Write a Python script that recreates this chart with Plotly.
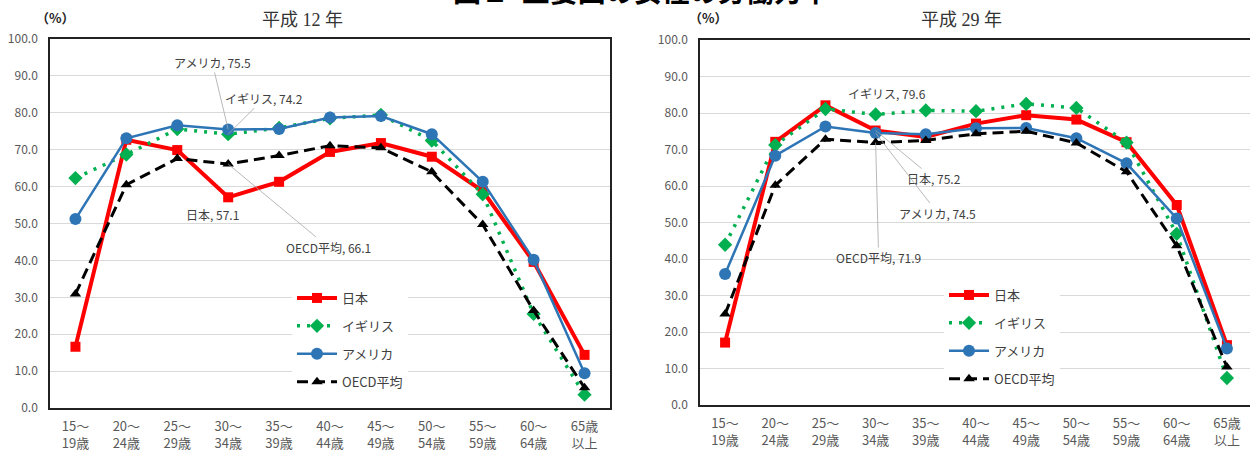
import plotly.graph_objects as go

categories = ["15～<br>19歳", "20～<br>24歳", "25～<br>29歳", "30～<br>34歳", "35～<br>39歳",
              "40～<br>44歳", "45～<br>49歳", "50～<br>54歳", "55～<br>59歳", "60～<br>64歳", "65歳<br>以上"]
series_names = ["日本", "イギリス", "アメリカ", "OECD平均"]

# 平成12年
h12_japan = [16.6, 72.7, 69.9, 57.1, 61.3, 69.4, 71.8, 68.1, 58.8, 39.6, 14.4]
h12_uk = [62.3, 68.7, 75.6, 74.2, 75.9, 78.5, 79.4, 72.5, 57.9, 25.5, 3.6]
h12_us = [51.2, 73.1, 76.6, 75.5, 75.6, 78.7, 79.1, 74.2, 61.3, 40.2, 9.4]
h12_oecd = [30.9, 60.5, 67.6, 66.1, 68.4, 71.1, 70.5, 64.0, 49.7, 26.4, 5.5]

# 平成29年
h29_japan = [17.1, 72.1, 82.1, 75.2, 73.4, 77.1, 79.4, 78.2, 72.0, 54.8, 16.4]
h29_uk = [43.9, 71.2, 81.1, 79.6, 80.7, 80.5, 82.5, 81.4, 71.9, 46.9, 7.4]
h29_us = [35.9, 68.3, 76.3, 74.5, 74.2, 75.8, 75.9, 73.1, 66.2, 51.1, 15.5]
h29_oecd = [24.9, 60.2, 72.8, 71.9, 72.5, 74.3, 75.0, 71.8, 63.9, 43.6, 10.4]

styles = [
    dict(line=dict(color="#FF0000", width=4), marker=dict(symbol="square", size=10, color="#FF0000")),
    dict(line=dict(color="#00B050", width=3.5, dash="3px,7px"), marker=dict(symbol="diamond", size=11, color="#00B050")),
    dict(line=dict(color="#2E75B6", width=2.5), marker=dict(symbol="circle", size=12, color="#2E75B6")),
    dict(line=dict(color="#000000", width=3, dash="11px,6px"), marker=dict(symbol="triangle-up", size=10, color="#000000")),
]

fig = go.Figure()
for i, (name, vals) in enumerate(zip(series_names, [h12_japan, h12_uk, h12_us, h12_oecd])):
    fig.add_trace(go.Scatter(x=categories, y=vals, name=name, mode="lines+markers",
                             xaxis="x", yaxis="y", legend="legend", legendgroup="a" + str(i),
                             **styles[i]))
for i, (name, vals) in enumerate(zip(series_names, [h29_japan, h29_uk, h29_us, h29_oecd])):
    fig.add_trace(go.Scatter(x=categories, y=vals, name=name, mode="lines+markers",
                             xaxis="x2", yaxis="y2", legend="legend2", legendgroup="b" + str(i),
                             **styles[i]))

H = 452
W = 1250
tickfont = dict(family="Noto Sans CJK JP", size=12, color="#595959")
xtickfont = dict(family="Noto Sans CJK JP", size=13, color="#595959")
label_font = dict(family="Noto Sans CJK JP", size=12, color="#404040")

common_x = dict(type="category", categoryorder="array", categoryarray=categories,
                showgrid=False, showline=True, linecolor="#222222", linewidth=1.5,
                ticks="", tickfont=xtickfont, tickangle=0, fixedrange=True,
                automargin=False, ticklabelstandoff=6)
common_y = dict(range=[0, 100], dtick=10, tickformat=".1f", showgrid=True,
                gridcolor="#D9D9D9", gridwidth=1, showline=True, linecolor="#222222",
                linewidth=1.5, ticks="", ticklabelstandoff=8, tickfont=tickfont,
                zeroline=False, automargin=False)

legend_common = dict(bgcolor="white", font=dict(family="Noto Sans CJK JP", size=13, color="#404040"),
                     tracegroupgap=8, itemwidth=40, xanchor="left", yanchor="top")

fig.update_layout(
    width=W, height=H,
    margin=dict(l=0, r=0, t=0, b=0, autoexpand=False),
    paper_bgcolor="white", plot_bgcolor="white",
    xaxis=dict(domain=[50 / W, 610 / W], range=[-0.5, 10.5], anchor="y", mirror=True, **common_x),
    yaxis=dict(domain=[44 / H, 413 / H], anchor="x", mirror=True, **common_y),
    xaxis2=dict(domain=[700 / W, 1.0], range=[-0.5, 10.46], anchor="y2", mirror=True, **common_x),
    yaxis2=dict(domain=[47 / H, 412 / H], anchor="x2", mirror=False, **common_y),
    legend=dict(x=292 / W, y=1 - 283 / H, **legend_common),
    legend2=dict(x=944 / W, y=1 - 280 / H, **legend_common),
    showlegend=True,
)

ann = []
# Titles
ann.append(dict(text="<b>図２  主要国の女性の労働力率</b>", xref="paper", yref="paper", x=642 / W, y=1 + 10 / H,
                xanchor="center", yanchor="middle", showarrow=False,
                font=dict(family="Noto Sans CJK JP", size=28, color="#000000")))
ann.append(dict(text="平成 12 年", xref="paper", yref="paper", x=302 / W, y=1 - 20 / H,
                xanchor="center", yanchor="middle", showarrow=False,
                font=dict(family="Liberation Serif, Noto Sans CJK JP", size=18, color="#333333")))
ann.append(dict(text="平成 29 年", xref="paper", yref="paper", x=962 / W, y=1 - 20 / H,
                xanchor="center", yanchor="middle", showarrow=False,
                font=dict(family="Liberation Serif, Noto Sans CJK JP", size=18, color="#333333")))
ann.append(dict(text="<b>（%）</b>", xref="paper", yref="paper", x=55 / W, y=1 - 17 / H,
                xanchor="center", yanchor="middle", showarrow=False,
                font=dict(family="Noto Sans CJK JP", size=13, color="#222222")))
ann.append(dict(text="<b>（%）</b>", xref="paper", yref="paper", x=708 / W, y=1 - 17 / H,
                xanchor="center", yanchor="middle", showarrow=False,
                font=dict(family="Noto Sans CJK JP", size=13, color="#222222")))

idx = 3  # 30～34歳
lead = dict(showarrow=True, arrowhead=0, arrowwidth=0.8, arrowcolor="#A6A6A6", standoff=0, startstandoff=0)
# left chart labels
ann.append(dict(text=f"アメリカ, {h12_us[idx]}", x=categories[idx], y=h12_us[idx], xref="x", yref="y",
                ax=-16, ay=-67, font=label_font, **lead))
ann.append(dict(text=f"イギリス, {h12_uk[idx]}", x=categories[idx], y=h12_uk[idx], xref="x", yref="y",
                ax=36, ay=-36, font=label_font, **lead))
ann.append(dict(text=f"日本, {h12_japan[idx]}", x=categories[idx], y=h12_japan[idx], xref="x", yref="y",
                showarrow=False, xshift=-16, yshift=-17, font=label_font))
ann.append(dict(text=f"OECD平均, {h12_oecd[idx]}", x=categories[idx], y=h12_oecd[idx], xref="x", yref="y",
                ax=100, ay=83, font=label_font, **lead))
# right chart labels
ann.append(dict(text=f"イギリス, {h29_uk[idx]}", x=categories[idx], y=h29_uk[idx], xref="x2", yref="y2",
                showarrow=False, xshift=11, yshift=21, font=label_font))
ann.append(dict(text=f"日本, {h29_japan[idx]}", x=categories[idx], y=h29_japan[idx], xref="x2", yref="y2",
                ax=58, ay=48, font=label_font, **lead))
ann.append(dict(text=f"アメリカ, {h29_us[idx]}", x=categories[idx], y=h29_us[idx], xref="x2", yref="y2",
                ax=62, ay=80, font=label_font, **lead))
ann.append(dict(text=f"OECD平均, {h29_oecd[idx]}", x=categories[idx], y=h29_oecd[idx], xref="x2", yref="y2",
                ax=3, ay=115, font=label_font, **lead))

fig.update_layout(annotations=ann)
fig.write_html("out.html")
